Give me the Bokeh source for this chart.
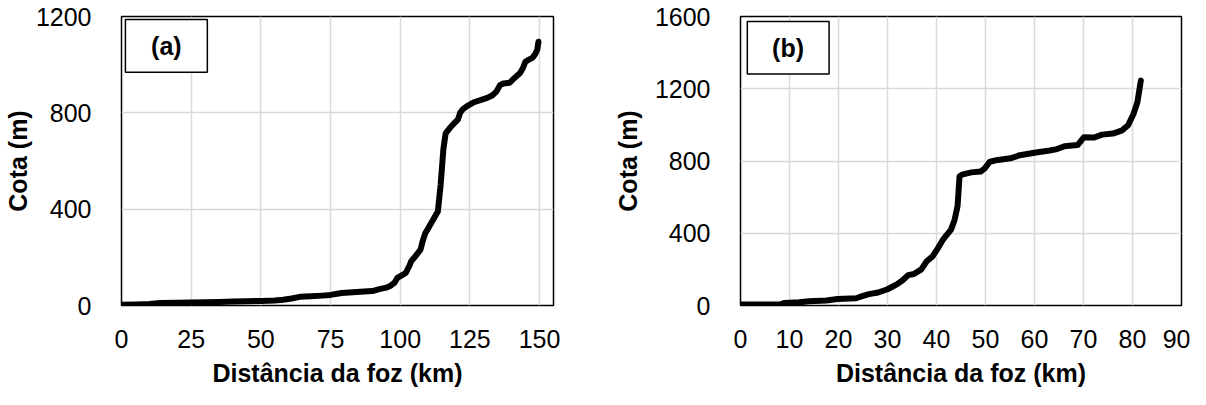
from bokeh.plotting import figure
from bokeh.layouts import row
from bokeh.models import Range1d, FixedTicker, BoxAnnotation, Label
from bokeh.core.properties import value
from bokeh.embed import file_html
from bokeh.resources import INLINE

FONT = "Liberation Sans"

# Panel (a) profile: distance from mouth (km), elevation (m)
a_dist = [0, 5, 10, 14, 20, 25, 30, 35, 40, 45, 50, 55, 58, 61, 64, 68, 72, 75, 79, 83,
          87, 90, 92.5, 95, 96.5, 98, 99, 100.5, 102, 103.3, 104, 105, 107.3, 108, 109,
          110, 112, 113.5, 114.5, 115.5, 116.3, 118, 119.5, 120.7, 121.5, 122.4, 124,
          126.5, 131.2, 133, 134.5, 135.8, 137, 139.3, 141, 143, 144, 144.9, 146, 147.4,
          148.5, 149.2, 149.6]
a_elev = [3, 4, 6, 10, 11, 12, 13, 15, 17, 18, 19, 21, 24, 29, 36, 38, 41, 44, 52, 55,
          58, 60, 68, 74, 82, 95, 115, 125, 135, 165, 185, 198, 232, 265, 300,
          320, 360, 390, 500, 650, 715, 740, 758, 772, 800, 814, 828,
          844, 862, 872, 888, 915, 922, 925, 945, 965, 985, 1012, 1020, 1028,
          1045, 1063, 1095]

# Panel (b) profile
b_dist = [0, 4, 8, 9, 12, 14, 17.5, 19.8, 23.6, 24.7, 26.2, 28.1, 30, 31.9, 33.1, 34.2,
          35.4, 36.9, 38, 39.2, 40.3, 41.4, 42.97, 43.7, 44.3, 44.7, 45.2, 47.1, 49,
          49.8, 50.9, 52.5, 55.1, 57, 60, 63.1, 64.6, 66.1, 68.8, 70.1, 72.2, 73.8, 76,
          77.9, 79.1, 80.2, 81, 81.7]
b_elev = [5, 5, 5, 14, 18, 23, 28, 36, 40, 50, 63, 72, 90, 117, 140, 168,
          174, 200, 245, 272, 318, 368, 420, 475, 550, 715, 725, 737, 742,
          758, 796, 806, 815, 832, 846, 858, 866, 882, 888, 932, 930, 946, 952,
          970, 998, 1060, 1125, 1245]

a_xticks = [0, 25, 50, 75, 100, 125, 150]
a_yticks = [0, 400, 800, 1200]
b_xticks = [0, 10, 20, 30, 40, 50, 60, 70, 80, 90]
b_yticks = [0, 400, 800, 1200, 1600]

x_title = "Distância da foz (km)"
y_title = "Cota (m)"


def make_panel(xs, ys, xr, yr, xt, yt, tag, width, mbl, mbr, ylab_standoff, box, lab_xy):
    p = figure(width=width, height=389, output_backend="svg", toolbar_location=None,
               x_range=Range1d(*xr), y_range=Range1d(*yr),
               min_border_left=mbl, min_border_right=mbr,
               min_border_top=16, min_border_bottom=82)
    p.background_fill_color = "white"
    p.border_fill_color = "white"
    p.outline_line_color = "black"
    p.outline_line_width = 1.5
    p.outline_line_alpha = 1.0

    p.xaxis.ticker = FixedTicker(ticks=xt)
    p.yaxis.ticker = FixedTicker(ticks=yt)
    for ax in (p.xaxis, p.yaxis):
        ax.axis_line_color = None
        ax.major_tick_line_color = None
        ax.minor_tick_line_color = None
        ax.major_label_text_font = FONT
        ax.major_label_text_font_size = "25px"
        ax.major_label_text_color = "black"
        ax.axis_label_text_font = FONT
        ax.axis_label_text_font_size = "25px"
        ax.axis_label_text_font_style = "bold"
        ax.axis_label_text_color = "black"
    p.xaxis.major_label_standoff = 18
    p.yaxis.major_label_standoff = 24
    p.xaxis.axis_label = x_title
    p.yaxis.axis_label = y_title
    p.xaxis.axis_label_standoff = 8
    p.yaxis.axis_label_standoff = ylab_standoff

    p.xgrid.grid_line_color = "#d9d9d9"
    p.ygrid.grid_line_color = "#d9d9d9"
    p.xgrid.grid_line_width = 1.5
    p.ygrid.grid_line_width = 1.5

    p.line(xs, ys, line_color="black", line_width=6, line_join="round", line_cap="round")

    l, r, b, t = box
    p.add_layout(BoxAnnotation(left=l, right=r, bottom=b, top=t,
                               fill_color="white", fill_alpha=1.0,
                               line_color="black", line_width=1.5, line_alpha=1.0))
    p.add_layout(Label(x=lab_xy[0], y=lab_xy[1], text=tag, text_font=FONT,
                       text_font_size="25px", text_font_style="bold",
                       text_align="center", text_baseline="middle", text_color="black"))
    return p


p1 = make_panel(a_dist, a_elev, (0, 155), (0, 1200), a_xticks, a_yticks, "(a)",
                610, 110, 57, 1, (1.4, 30.8, 969, 1187.6), (16.1, 1078))
p2 = make_panel(b_dist, b_elev, (0, 90), (0, 1600), b_xticks, b_yticks, "(b)",
                580, 118, 9, 10, (1.39, 18.08, 1281, 1572.5), (9.7, 1427))

layout = row(p1, p2)
open("out.html", "w").write(file_html(layout, INLINE))
